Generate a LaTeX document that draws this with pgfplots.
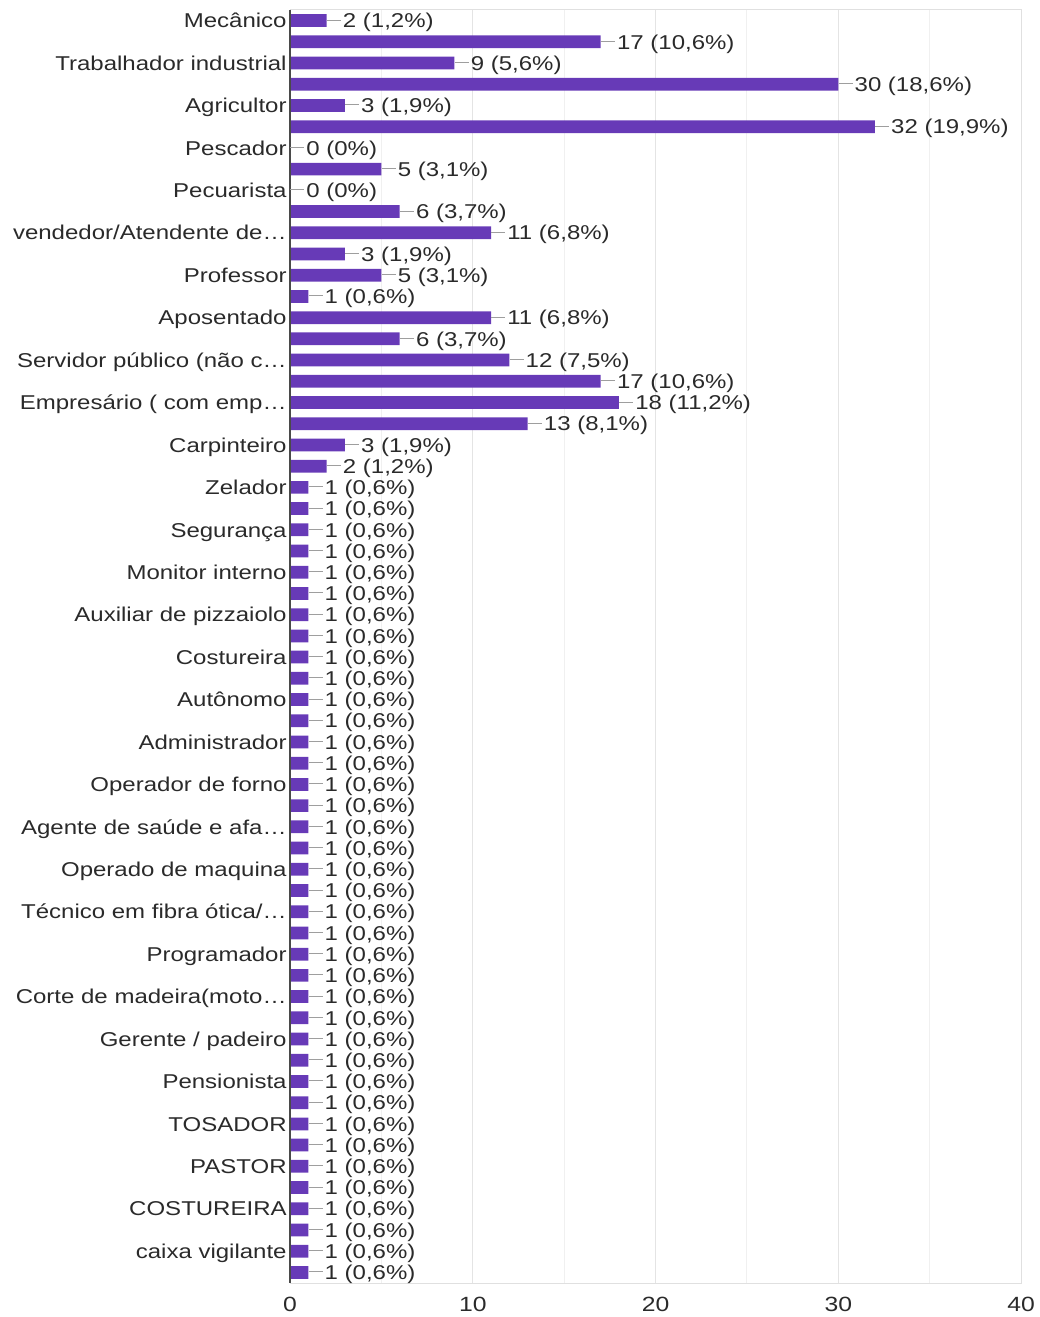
\documentclass[border=0pt]{standalone}
\usepackage{fontspec}
\setmainfont[FakeStretch=1.2]{Liberation Sans}
\usepackage{pgfplots}
\pgfplotsset{compat=1.18}
\usetikzlibrary{calc}

\definecolor{barpurple}{HTML}{673AB7}
\definecolor{txt}{HTML}{2A2A2A}
\definecolor{lead}{HTML}{9E9E9E}
\definecolor{gridmaj}{HTML}{E4E4E4}
\definecolor{gridmin}{HTML}{F0F0F0}
\definecolor{framec}{HTML}{E0E0E0}
\definecolor{yaxisc}{HTML}{4A4A4A}

% short grey leader between a bar end and its value label
\newcommand{\leader}{\textcolor{lead}{\rule[0.36em]{7pt}{0.5pt}}\hspace{1pt}}
\newcommand{\lblfont}{\fontsize{10}{12}\selectfont}

\begin{document}
\begin{tikzpicture}
\begin{axis}[
  scale only axis, width=365.5pt, height=636.5pt,
  xbar, bar width=0.6, bar shift=0pt,
  y dir=reverse,
  xmin=0, xmax=40, ymin=0.5, ymax=60.5,
  xtick={0,10,...,40}, minor xtick={5,15,...,35},
  xmajorgrids, xminorgrids,
  major grid style={draw=gridmaj, line width=0.5pt},
  minor grid style={draw=gridmin, line width=0.5pt},
  ytick={1,3,...,59},
  yticklabels={Mecânico, Trabalhador industrial, Agricultor, Pescador, Pecuarista,
    vendedor/Atendente de…, Professor, Aposentado, Servidor público (não c…,
    Empresário ( com emp…, Carpinteiro, Zelador, Segurança, Monitor interno,
    Auxiliar de pizzaiolo, Costureira, Autônomo, Administrador, Operador de forno,
    Agente de saúde e afa…, Operado de maquina, Técnico em fibra ótica/…,
    Programador, Corte de madeira(moto…, Gerente / padeiro, Pensionista,
    TOSADOR, PASTOR, COSTUREIRA, caixa vigilante},
  major tick length=0pt, minor tick length=0pt,
  axis line style={draw=framec, line width=0.5pt},
  tick label style={font=\lblfont, text=txt},
  yticklabel style={text height=0.72em, text depth=0pt, inner xsep=1.5pt},
  xticklabel style={font=\fontsize{10.3}{12}\selectfont, yshift=-3.5pt},
  /pgf/number format/assume math mode=true,
  point meta=explicit symbolic,
  nodes near coords={\leader\pgfplotspointmeta},
  every node near coord/.style={anchor=west, font=\lblfont, text=txt,
    inner xsep=0pt, text height=0.72em, text depth=0pt},
  clip=false,
]
\addplot[fill=barpurple, draw=none] coordinates {
  (2,1) [2 (1,2\%)]
  (17,2) [17 (10,6\%)]
  (9,3) [9 (5,6\%)]
  (30,4) [30 (18,6\%)]
  (3,5) [3 (1,9\%)]
  (32,6) [32 (19,9\%)]
  (0,7) [0 (0\%)]
  (5,8) [5 (3,1\%)]
  (0,9) [0 (0\%)]
  (6,10) [6 (3,7\%)]
  (11,11) [11 (6,8\%)]
  (3,12) [3 (1,9\%)]
  (5,13) [5 (3,1\%)]
  (1,14) [1 (0,6\%)]
  (11,15) [11 (6,8\%)]
  (6,16) [6 (3,7\%)]
  (12,17) [12 (7,5\%)]
  (17,18) [17 (10,6\%)]
  (18,19) [18 (11,2\%)]
  (13,20) [13 (8,1\%)]
  (3,21) [3 (1,9\%)]
  (2,22) [2 (1,2\%)]
  (1,23) [1 (0,6\%)]
  (1,24) [1 (0,6\%)]
  (1,25) [1 (0,6\%)]
  (1,26) [1 (0,6\%)]
  (1,27) [1 (0,6\%)]
  (1,28) [1 (0,6\%)]
  (1,29) [1 (0,6\%)]
  (1,30) [1 (0,6\%)]
  (1,31) [1 (0,6\%)]
  (1,32) [1 (0,6\%)]
  (1,33) [1 (0,6\%)]
  (1,34) [1 (0,6\%)]
  (1,35) [1 (0,6\%)]
  (1,36) [1 (0,6\%)]
  (1,37) [1 (0,6\%)]
  (1,38) [1 (0,6\%)]
  (1,39) [1 (0,6\%)]
  (1,40) [1 (0,6\%)]
  (1,41) [1 (0,6\%)]
  (1,42) [1 (0,6\%)]
  (1,43) [1 (0,6\%)]
  (1,44) [1 (0,6\%)]
  (1,45) [1 (0,6\%)]
  (1,46) [1 (0,6\%)]
  (1,47) [1 (0,6\%)]
  (1,48) [1 (0,6\%)]
  (1,49) [1 (0,6\%)]
  (1,50) [1 (0,6\%)]
  (1,51) [1 (0,6\%)]
  (1,52) [1 (0,6\%)]
  (1,53) [1 (0,6\%)]
  (1,54) [1 (0,6\%)]
  (1,55) [1 (0,6\%)]
  (1,56) [1 (0,6\%)]
  (1,57) [1 (0,6\%)]
  (1,58) [1 (0,6\%)]
  (1,59) [1 (0,6\%)]
  (1,60) [1 (0,6\%)]
};
% darker value axis on the left
\draw[yaxisc, line width=0.75pt] (axis cs:0,0.5) -- (axis cs:0,60.5);
\coordinate (bl) at (axis cs:0,60.5);
\coordinate (tr) at (axis cs:40,0.5);
\end{axis}
\pgfresetboundingbox
\path ($(bl)+(-145pt,-17pt)$) rectangle ($(tr)+(9pt,5pt)$);
\end{tikzpicture}
\end{document}
